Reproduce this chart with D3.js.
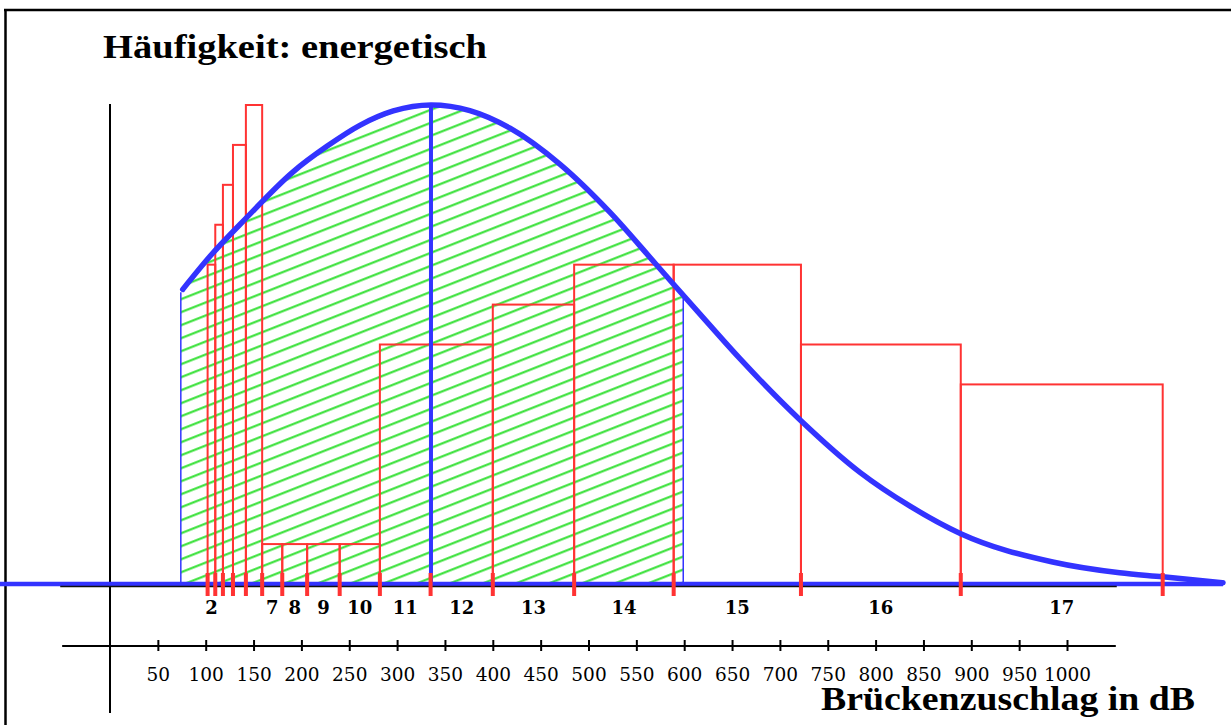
<!DOCTYPE html>
<html>
<meta charset="utf-8">
<style>
body { margin: 0; background: #fff; }
svg { display: block; }
.num { font: 18.5px "DejaVu Serif", serif; fill: #000; }
.bin { font: bold 18px "DejaVu Serif", serif; fill: #000; }
.big { font: bold 34px "Liberation Serif", serif; fill: #000; }
</style>
<svg width="1231" height="725"></svg>
<script src="https://d3js.org/d3.v7.min.js"></script>
<script>

// lower axis (dB scale) tick labels
var tickValues = [50, 100, 150, 200, 250, 300, 350, 400, 450, 500, 550, 600, 650, 700, 750, 800, 850, 900, 950, 1000];

// histogram classes: edges and counts (red outlines)
var binEdges  = [102, 110, 118, 128.5, 142, 159, 180, 206, 240, 282, 335, 400, 485, 589, 722, 889, 1100];
var binCounts = [8, 9, 10, 11, 12, 1, 1, 1, 1, 6, 6, 7, 8, 8, 6, 5];
var binLabels = ["2", "", "", "", "", "7", "8", "9", "10", "11", "12", "13", "14", "15", "16", "17"];

// energetic frequency curve (blue)
var curveX = [76, 104.5, 142, 191, 227, 261, 296, 335.4, 376, 418, 470, 522.5, 570.5, 616.5, 658, 722, 784, 836, 889, 985, 1055, 1100, 1163];
var curveY = [7.38, 8.21, 9.16, 10.32, 10.97, 11.49, 11.85, 12, 11.86, 11.42, 10.52, 9.31, 8.01, 6.76, 5.65, 4.09, 2.79, 1.95, 1.26, 0.55, 0.28, 0.18, 0.03];

var median = 335.4;
var hatchFrom = [74, 7.31], hatchTo = [599, 7.2];

var svg = d3.select("svg");

var x = d3.scaleLinear().domain([0, 1000]).range([110, 1067]);
var y = d3.scaleLinear().domain([0, 12]).range([584, 105]);

var red = "#ff3333", blue = "#3333ff", green = "#33e033";

// frame
svg.append("line").attr("x1", 5.5).attr("x2", 5.5).attr("y1", 9).attr("y2", 725)
  .attr("stroke", "#000").attr("stroke-width", 2.5);
svg.append("line").attr("x1", 4).attr("x2", 1231).attr("y1", 10).attr("y2", 10)
  .attr("stroke", "#000").attr("stroke-width", 2.5);

// hatch pattern
var defs = svg.append("defs");
var pat = defs.append("pattern")
  .attr("id", "hatch")
  .attr("patternUnits", "userSpaceOnUse")
  .attr("width", 40).attr("height", 12.1)
  .attr("patternTransform", "rotate(-21.5)");
pat.append("line").attr("x1", 0).attr("x2", 40).attr("y1", 6).attr("y2", 6)
  .attr("stroke", green).attr("stroke-width", 2);

// vertical axis
svg.append("line").attr("x1", x(0)).attr("x2", x(0)).attr("y1", y(12) - 1).attr("y2", 713)
  .attr("stroke", "#000").attr("stroke-width", 2);

// hatched area under the curve
var pts = curveX.map(function(d, i) { return [d, curveY[i]]; });
var inner = pts.filter(function(d) { return d[0] > hatchFrom[0] && d[0] < hatchTo[0]; });
var areaPts = [hatchFrom].concat(inner).concat([hatchTo]);

var area = d3.area()
  .x(function(d) { return x(d[0]); })
  .y0(y(0))
  .y1(function(d) { return y(d[1]); })
  .curve(d3.curveMonotoneX);

svg.append("path").datum(areaPts).attr("d", area).attr("fill", "url(#hatch)");

svg.selectAll(".edge").data([hatchFrom, hatchTo]).enter().append("line")
  .attr("class", "edge")
  .attr("x1", function(d) { return x(d[0]); }).attr("x2", function(d) { return x(d[0]); })
  .attr("y1", y(0)).attr("y2", function(d) { return y(d[1]); })
  .attr("stroke", blue).attr("stroke-width", 1.5);

// histogram bins
var bins = binCounts.map(function(c, i) { return {x0: binEdges[i], x1: binEdges[i + 1], n: c, label: binLabels[i]}; });

svg.selectAll(".bar").data(bins).enter().append("rect")
  .attr("class", "bar")
  .attr("x", function(d) { return x(d.x0); })
  .attr("y", function(d) { return y(d.n); })
  .attr("width", function(d) { return x(d.x1) - x(d.x0); })
  .attr("height", function(d) { return y(0) - y(d.n); })
  .attr("fill", "none")
  .attr("stroke", red).attr("stroke-width", 2);

// baseline: blue over black
svg.append("line").attr("x1", x(-115)).attr("x2", x(1163)).attr("y1", y(0)).attr("y2", y(0))
  .attr("stroke", blue).attr("stroke-width", 4.5);
svg.append("line").attr("x1", x(-52)).attr("x2", x(1052)).attr("y1", y(0) + 2.6).attr("y2", y(0) + 2.6)
  .attr("stroke", "#111").attr("stroke-width", 1.5);

// curve
var line = d3.line()
  .x(function(d) { return x(d[0]); })
  .y(function(d) { return y(d[1]); })
  .curve(d3.curveMonotoneX);

svg.append("path").datum(pts).attr("d", line)
  .attr("fill", "none").attr("stroke", blue).attr("stroke-width", 5.5)
  .attr("stroke-linecap", "round");

// median
svg.append("line").attr("x1", x(median)).attr("x2", x(median)).attr("y1", y(0)).attr("y2", y(12))
  .attr("stroke", blue).attr("stroke-width", 4);

// red class ticks
svg.selectAll(".rt").data(binEdges).enter().append("rect")
  .attr("class", "rt")
  .attr("x", function(d) { return x(d) - 2; })
  .attr("y", 573).attr("width", 4).attr("height", 23)
  .attr("fill", red);

// class numbers
svg.selectAll(".bin").data(bins).enter().append("text")
  .attr("class", "bin")
  .attr("x", function(d) { return x((d.x0 + d.x1) / 2); })
  .attr("y", 614)
  .attr("text-anchor", "middle")
  .text(function(d) { return d.label; });

// lower axis
var axisG = svg.append("g").attr("transform", "translate(0,646)");
axisG.append("line").attr("x1", x(-50)).attr("x2", x(1051)).attr("stroke", "#000").attr("stroke-width", 2);
axisG.call(d3.axisBottom(x).tickValues(tickValues).tickFormat(d3.format("d")).tickSize(6).tickPadding(0));
axisG.select(".domain").remove();
axisG.selectAll(".tick line").attr("y1", -6).attr("y2", 5).attr("stroke", "#000").attr("stroke-width", 2);
axisG.selectAll(".tick text")
  .attr("class", "num")
  .attr("y", 35).attr("dy", null)
  .attr("fill", "#000");
axisG.attr("font-family", null).attr("font-size", null);

// titles
svg.append("text").attr("class", "big").attr("x", 103).attr("y", 58)
  .attr("textLength", 384).attr("lengthAdjust", "spacingAndGlyphs")
  .text("Häufigkeit: energetisch");
svg.append("text").attr("class", "big").attr("x", 821).attr("y", 710)
  .attr("textLength", 374).attr("lengthAdjust", "spacingAndGlyphs")
  .text("Brückenzuschlag in dB");

</script>
</html>
